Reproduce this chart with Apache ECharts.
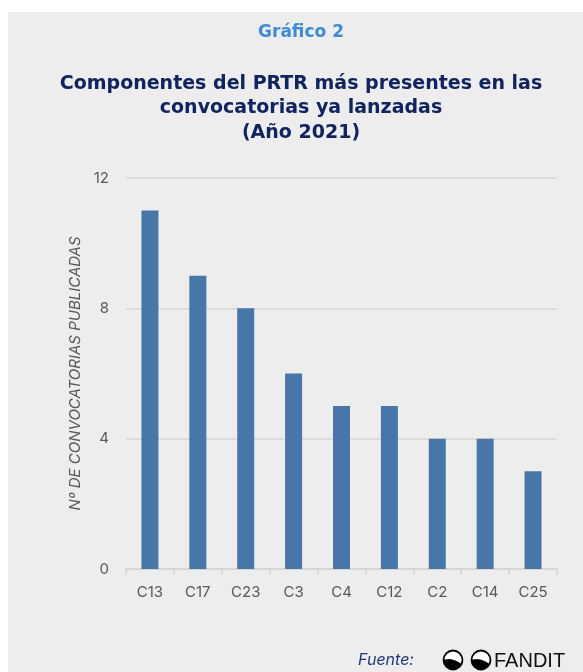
<!DOCTYPE html>
<html><head><meta charset="utf-8">
<script src="https://cdn.jsdelivr.net/npm/echarts@6/dist/echarts.min.js"></script>
<style>html,body{margin:0;padding:0;background:#fff}#c{width:583px;height:672px}</style>
</head><body><div id="c"></div>
<script>
const categories = ['C13','C17','C23','C3','C4','C12','C2','C14','C25'];
const values = [11, 9, 8, 6, 5, 5, 4, 4, 3];
const yTicks = [0, 4, 8, 12];

const chart = echarts.init(document.getElementById('c'));
const font = 'Inter, "Noto Sans", sans-serif';
const tfont = '"DejaVu Sans", Inter, sans-serif';
function logo(cx, cy) {
  const r = 9.5;
  const end = [cx + r * Math.cos(25 * Math.PI / 180), cy + r * Math.sin(25 * Math.PI / 180)];
  const start = [cx - r, cy];
  const ctrl = [cx - 1, cy - 3];
  const pts = [];
  for (let a = 180; a >= 25; a -= 6) {
    const t = a * Math.PI / 180;
    pts.push([cx + r * Math.cos(t), cy + r * Math.sin(t)]);
  }
  pts.push(end);
  for (let s = 1; s < 12; s++) {
    const u = s / 12;
    pts.push([
      (1-u)*(1-u)*end[0] + 2*(1-u)*u*ctrl[0] + u*u*start[0],
      (1-u)*(1-u)*end[1] + 2*(1-u)*u*ctrl[1] + u*u*start[1]
    ]);
  }
  return [
    {type:'circle', shape:{cx:cx, cy:cy, r:r}, style:{fill:'#fff', stroke:'#000', lineWidth:1.8}, z:10},
    {type:'polygon', shape:{points:pts}, style:{fill:'#000'}, z:11}
  ];
}
chart.setOption({
  backgroundColor: '#fff',
  graphic: [
    {type:'rect', shape:{x:8, y:12, width:575, height:660}, style:{fill:'#ededed'}, z:-10},
    {type:'text', style:{text:'Gráfico 2', font:'bold 17px '+tfont, fill:'#3d8bd6', textAlign:'center', textVerticalAlign:'middle'}, x:301, y:33},
    {type:'text', style:{text:'Componentes del PRTR más presentes en las\nconvocatorias ya lanzadas\n(Año 2021)', font:'bold 19px '+tfont, fill:'#0f2460', textAlign:'center', textVerticalAlign:'middle', lineHeight:24.5}, x:301, y:108.5},
    {type:'text', style:{text:'Fuente:', font:'italic 16px '+font, fill:'#1f3a7a', textAlign:'left', textVerticalAlign:'middle'}, x:358, y:660},
    ...logo(453, 660), ...logo(481, 660),
    {type:'text', style:{text:'FANDIT', font:'20px "Liberation Sans", Arial, sans-serif', fill:'#111', textAlign:'left', textVerticalAlign:'middle'}, x:494, y:661}
  ],
  grid: {left:126, right:26, top:178, bottom:103},
  xAxis: {
    type:'category', data: categories,
    axisLine:{lineStyle:{color:'#d4d4d4', width:1.5}},
    axisTick:{show:true, length:6, lineStyle:{color:'#d4d4d4', width:1.5}},
    axisLabel:{color:'#595959', fontSize:15, fontFamily:font, margin:16}
  },
  yAxis: {
    type:'value', min:0, max:12, interval:4,
    name:'Nº DE CONVOCATORIAS PUBLICADAS', nameLocation:'middle', nameGap:42,
    nameTextStyle:{color:'#595959', fontSize:15, fontStyle:'italic', fontFamily:font},
    axisLine:{show:false}, axisTick:{show:false},
    axisLabel:{color:'#595959', fontSize:15, fontFamily:font, margin:17,
      formatter: v => yTicks.includes(v) ? String(v) : ''},
    splitLine:{lineStyle:{color:'#d6d6d6', width:1.5}}
  },
  series: [{
    type:'bar', data: values, barWidth:17,
    itemStyle:{color:'#4677a8'}
  }]
});
</script></body></html>
